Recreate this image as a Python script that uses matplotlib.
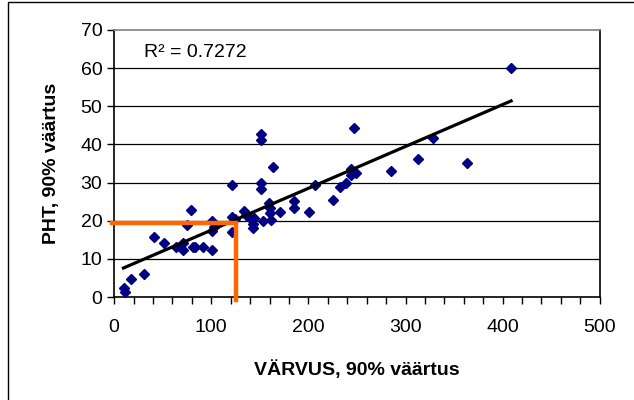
import numpy as np
from matplotlib import pyplot as plt
from matplotlib.patches import Rectangle

plt.rcParams['font.family'] = ['Liberation Sans', 'DejaVu Sans']

# VÄRVUS vs PHT, 90% väärtused
varvus = [10, 11, 17, 31, 41, 51, 64, 71, 71, 75, 79, 81, 83, 91,
          101, 101, 101, 103, 121, 121, 121, 124, 134, 136, 141, 143, 143, 144,
          151, 151, 151, 151, 153, 159, 161, 161, 162, 164, 171, 185, 185,
          201, 207, 225, 233, 239, 244, 244, 249, 247, 285, 313, 328, 363, 409]
pht = [2.4, 1.3, 4.6, 5.9, 15.7, 14.2, 13.0, 14.2, 12.2, 19.0, 22.7, 13.0, 13.0, 13.0,
       12.2, 17.2, 20.0, 18.4, 29.4, 21.0, 17.1, 20.5, 22.6, 21.6, 20.5, 19.2, 18.1, 20.7,
       42.8, 41.2, 30.0, 28.4, 19.8, 24.6, 23.3, 22.0, 20.3, 34.0, 22.3, 25.1, 23.3,
       22.3, 29.4, 25.3, 28.8, 29.9, 33.6, 31.9, 32.5, 44.3, 33.1, 36.2, 41.7, 35.1, 60.0]

# trendijoon
trend_x = [9.6, 408.7]
trend_y = [7.6, 51.4]
r2_text = "R² = 0.7272"

# oranž abijoon
abi_x = [-2, 125, 125]
abi_y = [19.4, 19.4, -0.7]

fig = plt.figure(figsize=(6.34, 4.0), dpi=100)
ax = fig.add_axes([0.180, 0.2575, 0.766, 0.6675])

for y in range(10, 70, 10):
    ax.axhline(y, color="black", lw=0.9, zorder=1)

ax.plot(varvus, pht, "D", color="#000080", markersize=5, zorder=3, clip_on=False)
ax.plot(trend_x, trend_y, "-", color="black", lw=2.3, zorder=4)
ax.plot(abi_x, abi_y, "-", color="#FF6600", lw=3.2, zorder=5, clip_on=False,
        solid_joinstyle="miter")

ax.text(31, 64.2, r2_text, fontsize=14, va="center", ha="left")

ax.set_xlim(0, 500)
ax.set_ylim(0, 70)
ax.set_xticks(range(0, 501, 100))
ax.set_xticks(range(0, 501, 20), minor=True)
ax.set_yticks(range(0, 71, 10))
ax.tick_params(axis="both", direction="out", length=5, width=1, labelsize=14, colors="black")
ax.tick_params(axis="x", which="minor", direction="out", length=5, width=1)
ax.tick_params(axis="x", pad=11)

for side in ["left", "bottom", "right"]:
    ax.spines[side].set_color("black")
    ax.spines[side].set_linewidth(1.2)
ax.spines["top"].set_color("#808080")
ax.spines["top"].set_linewidth(1.2)

ax.set_xlabel("VÄRVUS, 90% väärtus", fontsize=14, fontweight="bold", labelpad=17)
ax.set_ylabel("PHT, 90% väärtus", fontsize=14, fontweight="bold", labelpad=15)

fig.patches.append(Rectangle((8 / 634, -0.05), 1.1, 1.05 - 2 / 400, transform=fig.transFigure,
                             fill=False, edgecolor="black", lw=1))

fig.savefig("out.png", dpi=100)
